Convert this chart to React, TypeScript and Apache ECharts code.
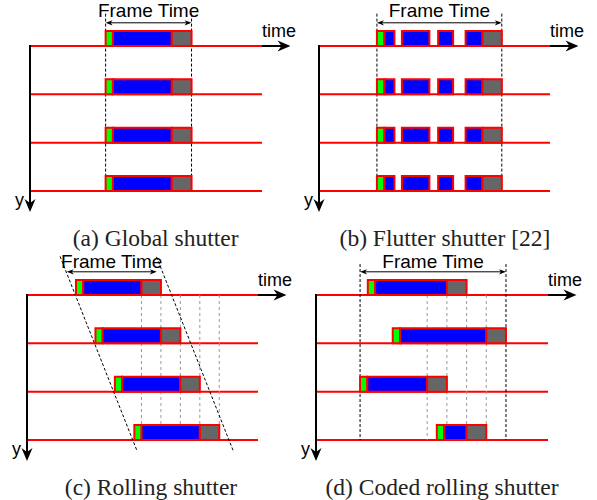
import React, { useEffect, useRef } from "react";
import * as echarts from "echarts";

// Row indices (sensor rows), time measured in units where one frame = 10
const ROWS = [0, 1, 2, 3];

// (a) Global shutter
const globalStart = [8.8, 8.8, 8.8, 8.8];
const globalPhases = [0.85, 6.85, 2.3]; // reset, exposure, readout
const globalFrame = [8.8, 18.8];

// (b) Flutter shutter: [offset start, offset end, kind]
const flutterStart = [4.64, 4.64, 4.64, 4.64];
const flutterChops = [
  [0, 0.6, 0],
  [0.6, 1.4, 1],
  [2.0, 4.2, 1],
  [4.9, 6.1, 1],
  [7.1, 8.45, 1],
  [8.45, 10, 2],
];
const flutterFrame = [4.64, 14.64];

// (c) Rolling shutter
const rollingStart = [5.77, 8.06, 10.35, 12.64];
const rollingPhases = [0.85, 6.86, 2.29];
const rollingSlots = [13.48, 15.77, 18.06, 20.35, 22.64];
const rollingEdges = [
  [3.89, -0.8, 12.99, 3.24],
  [15.25, -0.79, 24.32, 3.24],
];
const rollingFrameArrow = [4.68, 15.28];

// (d) Coded rolling shutter
const codedStart = [3.55, 5.26, 3.02, 8.28];
const codedEnd = [10.32, 13.02, 8.97, 11.67];
const codedReset = 0.5;
const codedReadout = 1.35;
const codedSlots = [7.62, 8.97, 10.32, 11.67];
const codedFrame = [3.02, 13.02];

const axisMax = [27, 18.5, 27.2, 15.9];
const captions = [
  "(a) Global shutter",
  "(b) Flutter shutter [22]",
  "(c) Rolling shutter",
  "(d) Coded rolling shutter",
];

const RED = "#ff0000";
const FILLS = ["#00ff00", "#0000ff", "#666666"];
const SANS = '"Liberation Sans", Arial, sans-serif';
const SERIF = '"Liberation Serif", "Times New Roman", serif';

function phaseSegs(starts: number[], phases: number[]) {
  const out: number[][] = [];
  starts.forEach((s, r) => {
    let t = s;
    phases.forEach((d, k) => {
      out.push([t, t + d, r, k]);
      t += d;
    });
  });
  return out;
}

const segA = phaseSegs(globalStart, globalPhases);
const segB = flutterStart.flatMap((s, r) =>
  flutterChops.map(([a, b, k]) => [s + a, s + b, r, k])
);
const segC = phaseSegs(rollingStart, rollingPhases);
const segD = codedStart.flatMap((s, r) => [
  [s, s + codedReset, r, 0],
  [s + codedReset, codedEnd[r] - codedReadout, r, 1],
  [codedEnd[r] - codedReadout, codedEnd[r], r, 2],
]);

const guidesA = globalFrame.map((x) => [x, -0.67, x, 3, 0]);
const guidesB = flutterFrame.map((x) => [x, -0.67, x, 3, 0]);
const guidesC = [
  ...rollingSlots.map((x) => [x, 0, x, 3, 1]),
  ...rollingEdges.map((e) => [...e, 0]),
];
const guidesD = [
  ...codedSlots.map((x) => [x, 0, x, 3, 1]),
  ...codedFrame.map((x) => [x, -0.64, x, 3, 0]),
];

const panelData = [
  { segs: segA, guides: guidesA, arrow: globalFrame },
  { segs: segB, guides: guidesB, arrow: flutterFrame },
  { segs: segC, guides: guidesC, arrow: rollingFrameArrow },
  { segs: segD, guides: guidesD, arrow: codedFrame },
];

const gridLayout = [
  { left: 30, top: 46, width: 232, height: 145 },
  { left: 319, top: 46, width: 231, height: 145 },
  { left: 27, top: 295, width: 231, height: 145 },
  { left: 316, top: 295, width: 232, height: 145 },
];
const frameLabelOffset = [-36, -36, -33.6, -33.6];
const captionPos = [
  [155.6, 237.6],
  [445, 237.6],
  [151, 487],
  [442, 487],
];

function arrowHead(
  tip: number[],
  dir: number[],
  len: number,
  half: number,
  notch: number
) {
  const [dx, dy] = dir;
  const nx = -dy;
  const ny = dx;
  return [
    [tip[0], tip[1]],
    [tip[0] - dx * len + nx * half, tip[1] - dy * len + ny * half],
    [tip[0] - dx * (len - notch), tip[1] - dy * (len - notch)],
    [tip[0] - dx * len - nx * half, tip[1] - dy * len - ny * half],
  ];
}

function buildOption() {
  const series: any[] = [];
  panelData.forEach((p, i) => {
    const xMax = axisMax[i];
    const labelOff = frameLabelOffset[i];
    const common = {
      type: "custom",
      xAxisIndex: i,
      yAxisIndex: i,
      clip: false,
      silent: true,
    };
    // row lines
    series.push({
      ...common,
      z: 1,
      data: ROWS.map((r) => [r]),
      renderItem: (_: any, api: any) => {
        const r = api.value(0);
        const a = api.coord([0, r]);
        const b = api.coord([xMax, r]);
        return {
          type: "line",
          shape: { x1: a[0] - 1, y1: a[1], x2: b[0], y2: b[1] },
          style: { stroke: RED, lineWidth: 2 },
        };
      },
    });
    // guide lines
    series.push({
      ...common,
      z: 2,
      data: p.guides,
      renderItem: (_: any, api: any) => {
        const a = api.coord([api.value(0), api.value(1)]);
        const b = api.coord([api.value(2), api.value(3)]);
        const gray = api.value(4) === 1;
        return {
          type: "line",
          shape: { x1: a[0], y1: a[1], x2: b[0], y2: b[1] },
          style: {
            stroke: gray ? "#9a9a9a" : "#000000",
            lineWidth: 1,
            lineDash: gray ? [3, 3] : [3, 2],
          },
        };
      },
    });
    // exposure boxes
    series.push({
      ...common,
      z: 3,
      data: p.segs,
      renderItem: (_: any, api: any) => {
        const r = api.value(2);
        const a = api.coord([api.value(0), r]);
        const b = api.coord([api.value(1), r - 0.31]);
        return {
          type: "rect",
          shape: { x: a[0], y: b[1], width: b[0] - a[0], height: a[1] - b[1] },
          style: { fill: FILLS[api.value(3)], stroke: RED, lineWidth: 2 },
        };
      },
    });
    // axes, arrows and labels
    series.push({
      ...common,
      z: 4,
      data: [p.arrow],
      renderItem: (_: any, api: any) => {
        const o = api.coord([0, 0]);
        const end = api.coord([xMax, 0]);
        const bottom = api.coord([0, 3]);
        const f0 = api.coord([api.value(0), -0.48]);
        const f1 = api.coord([api.value(1), -0.48]);
        const yTip = [o[0], bottom[1] + 21];
        const tTip = [end[0] + 28.5, end[1]];
        const children: any[] = [
          {
            type: "line",
            shape: { x1: o[0], y1: o[1] - 1, x2: o[0], y2: yTip[1] - 8 },
            style: { stroke: "#000", lineWidth: 2 },
          },
          {
            type: "polygon",
            shape: { points: arrowHead(yTip, [0, 1], 13, 5.5, 4) },
            style: { fill: "#000" },
          },
          {
            type: "line",
            shape: { x1: end[0], y1: end[1], x2: tTip[0] - 8, y2: end[1] },
            style: { stroke: "#000", lineWidth: 2 },
          },
          {
            type: "polygon",
            shape: { points: arrowHead(tTip, [1, 0], 13, 5.5, 4) },
            style: { fill: "#000" },
          },
          {
            type: "line",
            shape: { x1: f0[0] + 3, y1: f0[1], x2: f1[0] - 3, y2: f1[1] },
            style: { stroke: "#000", lineWidth: 1 },
          },
          {
            type: "polygon",
            shape: { points: arrowHead(f1, [1, 0], 7, 2.6, 2) },
            style: { fill: "#000" },
          },
          {
            type: "polygon",
            shape: { points: arrowHead(f0, [-1, 0], 7, 2.6, 2) },
            style: { fill: "#000" },
          },
          {
            type: "text",
            x: (f0[0] + f1[0]) / 2,
            y: o[1] + labelOff,
            style: {
              text: "Frame Time",
              fill: "#000",
              font: `19px ${SANS}`,
              align: "center",
              verticalAlign: "middle",
            },
          },
          {
            type: "text",
            x: end[0],
            y: o[1] - 15,
            style: {
              text: "time",
              fill: "#000",
              font: `18px ${SANS}`,
              align: "left",
              verticalAlign: "middle",
            },
          },
          {
            type: "text",
            x: o[0] - 10.5,
            y: o[1] + 154,
            style: {
              text: "y",
              fill: "#000",
              font: `18px ${SANS}`,
              align: "center",
              verticalAlign: "middle",
            },
          },
        ];
        return { type: "group", children };
      },
    });
  });

  return {
    animation: false,
    backgroundColor: "#ffffff",
    grid: gridLayout.map((g) => ({ ...g, show: false })),
    xAxis: axisMax.map((m, i) => ({
      type: "value",
      gridIndex: i,
      min: 0,
      max: m,
      show: false,
    })),
    yAxis: axisMax.map((_, i) => ({
      type: "value",
      gridIndex: i,
      min: 0,
      max: 3,
      inverse: true,
      show: false,
    })),
    graphic: captions.map((c, i) => ({
      type: "text",
      x: captionPos[i][0],
      y: captionPos[i][1],
      silent: true,
      style: {
        text: c,
        fill: "#222",
        font: `23.5px ${SERIF}`,
        align: "center",
        verticalAlign: "middle",
      },
    })),
    series,
  };
}

export default function App() {
  const ref = useRef<HTMLDivElement>(null);
  useEffect(() => {
    document.body.style.margin = "0";
    if (!ref.current) return;
    const chart = echarts.init(ref.current, undefined, { renderer: "svg" });
    chart.setOption(buildOption() as any);
    return () => chart.dispose();
  }, []);
  return <div ref={ref} style={{ width: 597, height: 500 }} />;
}
